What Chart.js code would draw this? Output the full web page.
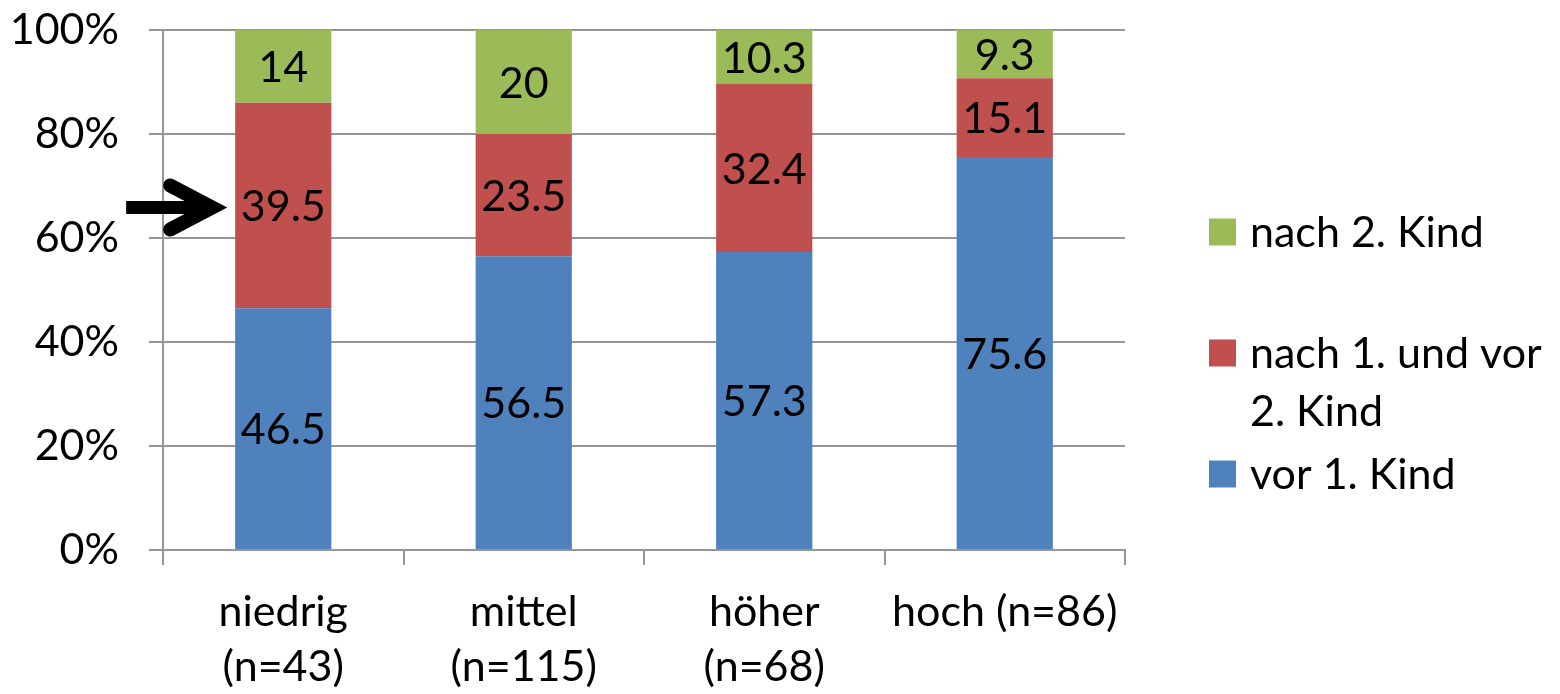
<!DOCTYPE html>
<html lang="de">
<head>
  <meta charset="UTF-8">
  <title>Zeitpunkt nach Bildungsniveau</title>
  <script src="https://cdn.jsdelivr.net/npm/chart.js@4.4.1/dist/chart.umd.min.js"></script>
  <style>
    body {
      margin: 0;
      background: #fff;
    }

    .wrap {
      position: relative;
      width: 1560px;
      height: 694px;
    }
  </style>
</head>
<body>

  <div class="wrap">
    <canvas id="stackChart"></canvas>
  </div>

  <script>
    const categories = [["niedrig", "(n=43)"], ["mittel", "(n=115)"], ["höher", "(n=68)"], "hoch (n=86)"];
    const seriesNames = ["vor 1. Kind", "nach 1. und vor 2. Kind", "nach 2. Kind"];
    const legendLines = [["vor 1. Kind"], ["nach 1. und vor", "2. Kind"], ["nach 2. Kind"]];
    const vorErstem = [46.5, 56.5, 57.3, 75.6];
    const zwischen = [39.5, 23.5, 32.4, 15.1];
    const nachZweitem = [14, 20, 10.3, 9.3];
    const yTicks = [0, 20, 40, 60, 80, 100];
    const colors = ["#4f81bd", "#c0504d", "#9bbb59"];

    const FONT = "Lato, 'Open Sans', sans-serif";
    const FSIZE = 43;
    const gridColor = "#969696";

    // Werte mittig in die Segmente schreiben
    const segmentLabels = {
      id: "segmentLabels",
      afterDatasetsDraw(chart) {
        const ctx = chart.ctx;
        ctx.save();
        ctx.font = FSIZE + "px " + FONT;
        ctx.fillStyle = "#000";
        ctx.textAlign = "center";
        ctx.textBaseline = "middle";
        chart.data.datasets.forEach((ds, i) => {
          chart.getDatasetMeta(i).data.forEach((bar, j) => {
            const mid = (bar.y + bar.base) / 2;
            ctx.fillText(String(ds.data[j]), bar.x, mid + 2);
          });
        });
        ctx.restore();
      }
    };

    // Pfeil auf das mittlere Segment der ersten Säule
    const arrowMark = {
      id: "arrowMark",
      afterDraw(chart) {
        const ctx = chart.ctx;
        const y = chart.scales.y.getPixelForValue(vorErstem[0] + zwischen[0] / 2) + 2;
        const bar = chart.getDatasetMeta(1).data[0];
        const tip = bar.x - bar.width / 2 - 19;
        ctx.save();
        ctx.strokeStyle = "#000";
        ctx.lineWidth = 13;
        ctx.lineCap = "butt";
        ctx.beginPath();
        ctx.moveTo(tip - 90, y);
        ctx.lineTo(tip - 8, y);
        ctx.stroke();
        ctx.lineCap = "round";
        ctx.lineJoin = "miter";
        ctx.lineWidth = 14;
        ctx.beginPath();
        ctx.moveTo(tip - 46, y - 22);
        ctx.lineTo(tip - 4, y);
        ctx.lineTo(tip - 46, y + 22);
        ctx.stroke();
        ctx.restore();
      }
    };

    // Legende rechts, wie im Original mit Zeilenumbruch
    const sideLegend = {
      id: "sideLegend",
      afterDraw(chart) {
        const ctx = chart.ctx;
        const rows = [232, 353, 474];
        ctx.save();
        ctx.font = FSIZE + "px " + FONT;
        ctx.textAlign = "left";
        ctx.textBaseline = "middle";
        [2, 1, 0].forEach((s, k) => {
          const cy = rows[k];
          ctx.fillStyle = colors[s];
          ctx.fillRect(1209, cy - 13.5, 27, 27);
          ctx.fillStyle = "#000";
          legendLines[s].forEach((line, l) => {
            ctx.fillText(line, 1250, cy + 1 + l * 58);
          });
        });
        ctx.restore();
      }
    };

    const ctx = document.getElementById("stackChart").getContext("2d");

    new Chart(ctx, {
      type: "bar",
      data: {
        labels: categories,
        datasets: [
          { label: seriesNames[0], data: vorErstem, backgroundColor: colors[0] },
          { label: seriesNames[1], data: zwischen, backgroundColor: colors[1] },
          { label: seriesNames[2], data: nachZweitem, backgroundColor: colors[2] }
        ].map(d => Object.assign(d, { barPercentage: 0.8, categoryPercentage: 0.5, borderWidth: 0 }))
      },
      options: {
        responsive: true,
        maintainAspectRatio: false,
        animation: false,
        devicePixelRatio: 1,
        layout: { padding: { top: 30, right: 435, bottom: 0, left: 0 } },
        plugins: {
          legend: { display: false },
          tooltip: { enabled: false }
        },
        scales: {
          x: {
            stacked: true,
            offset: true,
            grid: {
              offset: true,
              drawOnChartArea: false,
              tickLength: 15,
              color: gridColor,
              lineWidth: 2
            },
            border: { color: gridColor, width: 2 },
            ticks: {
              color: "#000",
              padding: 20,
              maxRotation: 0,
              font: { family: FONT, size: FSIZE, lineHeight: 1.28 }
            },
            afterFit(scale) { scale.height = 144; }
          },
          y: {
            stacked: true,
            min: 0,
            max: 100,
            afterBuildTicks(scale) { scale.ticks = yTicks.map(v => ({ value: v })); },
            grid: {
              color: gridColor,
              lineWidth: 2,
              tickLength: 14
            },
            border: { color: gridColor, width: 2 },
            ticks: {
              color: "#000",
              padding: 30,
              font: { family: FONT, size: FSIZE },
              callback: v => v + "%"
            },
            afterFit(scale) {
              scale.width = 163;
              scale.paddingTop = 0;
              scale.paddingBottom = 0;
            }
          }
        }
      },
      plugins: [segmentLabels, arrowMark, sideLegend]
    });
  </script>

</body>
</html>
